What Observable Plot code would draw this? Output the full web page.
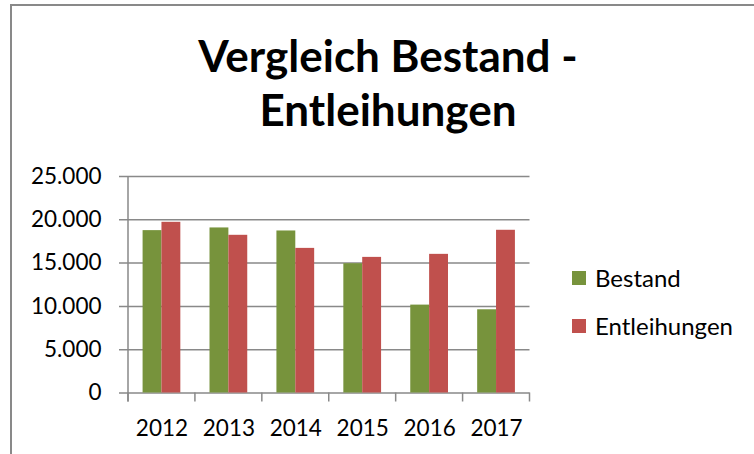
<!DOCTYPE html>
<html>
<head>
<meta charset="utf-8">
<script src="https://cdn.jsdelivr.net/npm/d3@7"></script>
<script src="https://cdn.jsdelivr.net/npm/@observablehq/plot@0.6"></script>
<style>
  html, body { margin: 0; padding: 0; background: #fff; }
  #wrap { position: relative; width: 754px; height: 454px; overflow: hidden; font-family: Lato, sans-serif; color: #000; }
  #border { position: absolute; left: 10px; top: 4px; width: 900px; height: 600px; border-left: 2px solid #898989; border-top: 2px solid #898989; box-sizing: border-box; }
  #title { position: absolute; left: 0; top: 28px; width: 776px; text-align: center; font-weight: bold; font-size: 44px; line-height: 54px; }
  #chart { position: absolute; left: 0; top: 0; }
  .leg { position: absolute; left: 572px; display: flex; align-items: center; font-size: 24px; line-height: 24px; }
  .sw { width: 14px; height: 14px; margin-right: 9px; }
</style>
</head>
<body>
<div id="wrap">
  <div id="border"></div>
  <div id="chart"></div>
  <div id="title">Vergleich Bestand -<br>Entleihungen</div>
  <div id="legend"></div>
</div>
<script>
const years = ["2012", "2013", "2014", "2015", "2016", "2017"];
const bestand = [18750, 19060, 18710, 14930, 10150, 9610];
const entleihungen = [19710, 18210, 16700, 15660, 16010, 18790];
const seriesNames = ["Bestand", "Entleihungen"];
const seriesColors = ["#77933C", "#C0504D"];
const yTicks = [0, 5000, 10000, 15000, 20000, 25000];

const rows = [];
years.forEach((y, i) => {
  rows.push({year: y, series: "Bestand", value: bestand[i]});
  rows.push({year: y, series: "Entleihungen", value: entleihungen[i]});
});

const W = 754, H = 454, ML = 128, MR = 224.5, MT = 176, MB = 61.5;
const step = (W - ML - MR) / years.length;
const pad = step * 0.218;
const bw = step * 0.282;
const gridColor = "#898989";
const fmt = d => d3.format(",")(d).replace(/,/g, ".");

const chart = Plot.plot({
  width: W, height: H,
  marginLeft: ML, marginRight: MR, marginTop: MT, marginBottom: MB,
  style: {fontFamily: "Lato", fontSize: "22.5px", color: "#000", background: "transparent"},
  x: {domain: years, padding: 0, round: false},
  y: {domain: [0, 25000]},
  color: {domain: seriesNames, range: seriesColors},
  marks: [
    Plot.ruleY(yTicks, {stroke: gridColor, strokeWidth: 1.5, insetLeft: -9}),
    Plot.barY(rows.filter(d => d.series === "Bestand"), {x: "year", y: "value", fill: "series", insetLeft: pad, insetRight: step - pad - bw}),
    Plot.barY(rows.filter(d => d.series === "Entleihungen"), {x: "year", y: "value", fill: "series", insetLeft: pad + bw, insetRight: pad}),
    Plot.axisY({ticks: yTicks, tickSize: 0, tickPadding: 27, tickFormat: fmt, label: null, fontSize: 22.5}),
    Plot.axisX({tickSize: 0, tickPadding: 27.5, label: null, fontSize: 22.5})
  ]
});

// Excel-style axis line and category separators drawn from the plot's own scales
const xS = chart.scale("x"), yS = chart.scale("y");
const y0 = yS.apply(0), yTop = yS.apply(25000);
const g = d3.select(chart).append("g").attr("stroke", gridColor).attr("stroke-width", 1.5);
const left = xS.apply(years[0]);
g.append("line").attr("x1", left).attr("x2", left).attr("y1", yTop).attr("y2", y0 + 9);
const edges = years.map(y => xS.apply(y)).concat([xS.apply(years[years.length - 1]) + xS.bandwidth]);
edges.forEach(x => g.append("line").attr("x1", x).attr("x2", x).attr("y1", y0).attr("y2", y0 + 9));

document.getElementById("chart").appendChild(chart);

const legend = document.getElementById("legend");
const legTops = [265.5, 313.5];
seriesNames.forEach((name, i) => {
  const item = document.createElement("div");
  item.className = "leg";
  item.style.top = legTops[i] + "px";
  const sw = document.createElement("div");
  sw.className = "sw";
  sw.style.background = seriesColors[i];
  const t = document.createElement("span");
  t.textContent = name;
  item.appendChild(sw);
  item.appendChild(t);
  legend.appendChild(item);
});
</script>
</body>
</html>
